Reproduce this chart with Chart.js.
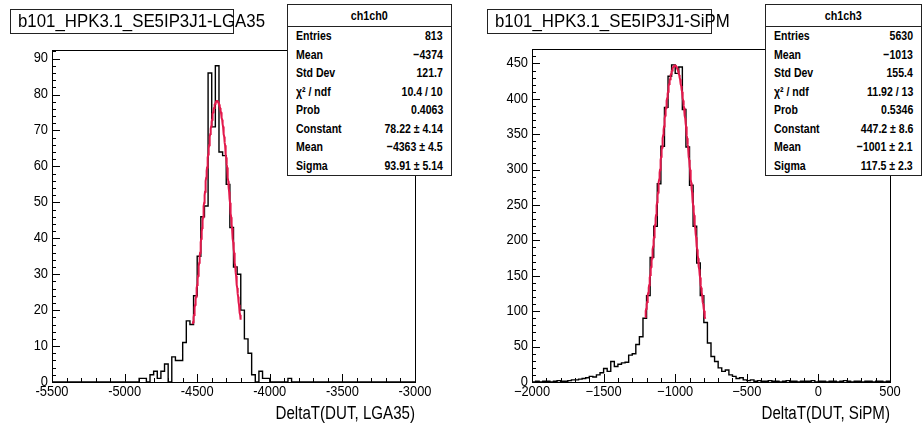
<!DOCTYPE html>
<html>
<head>
<meta charset="utf-8">
<title>DeltaT distributions</title>
<script src="https://cdn.jsdelivr.net/npm/chart.js@4.4.1/dist/chart.umd.min.js"></script>
<style>
  html, body { margin: 0; padding: 0; background: #fff; }
  #page { position: relative; width: 923px; height: 431px; overflow: hidden; background: #fff;
          font-family: 'Liberation Sans', Arial, sans-serif; color: #000; }
  canvas { position: absolute; top: 0; }
  .htitle { position: absolute; top: 9px; height: 25px; border: 1px solid #222; background: #fff;
            box-sizing: border-box; font-size: 18px; line-height: 23px; padding-left: 7px; white-space: nowrap; }
  .htitle span { display: inline-block; transform: scaleX(0.935); transform-origin: 0 50%; }
  .stats { position: absolute; top: 4px; border: 1px solid #222; background: #fff; box-sizing: border-box;
           font-size: 13.5px; font-weight: bold; }
  .stats .hd { height: 21px; line-height: 21px; text-align: center; border-bottom: 1px solid #222; }
  .stats .hd span { display: inline-block; transform: scaleX(0.8); transform-origin: 50% 50%; }
  .stats .row { position: relative; height: 18.5px; line-height: 18.5px; }
  .stats .row .k { position: absolute; left: 8px; transform: scaleX(0.78); transform-origin: 0 50%; white-space: nowrap; }
  .stats .row .v { position: absolute; right: 8px; transform: scaleX(0.78); transform-origin: 100% 50%; white-space: nowrap; }
</style>
</head>
<body>
<div id="page">
  <canvas id="cv0" width="461" height="431" style="left:0"></canvas>
  <canvas id="cv3" width="462" height="431" style="left:461px"></canvas>
  <div class="htitle" id="t0" style="left:10px;width:224px"></div>
  <div class="htitle" id="t3" style="left:487px;width:225px"></div>
  <div class="stats" id="s0" style="left:287px;width:165px"></div>
  <div class="stats" id="s3" style="left:765px;width:157px"></div>
</div>
<script>
// ---- histogram contents: 100 bins of 25 per channel ----
const binWidth = 25;

// ch1ch0 : DeltaT(DUT, LGA35)
const ch0Name = 'ch1ch0';
const ch0Title = 'b101_HPK3.1_SE5IP3J1-LGA35';
const ch0AxisTitle = 'DeltaT(DUT, LGA35)';
const ch0Range = [-5500, -3000];
const ch0Counts = [
  0, 0, 0, 0, 0, 0, 0, 0, 0, 0,
  0, 0, 0, 0, 0, 0, 0, 0, 0, 0,
  0, 0, 0, 0, 1, 1, 0, 2, 3, 1,
  3, 5, 0, 7, 6, 6, 11, 17, 16, 24,
  35, 46, 49, 86, 71, 88, 64, 63, 55, 43,
  32, 30, 20, 12, 8, 2, 0, 3, 1, 1,
  0, 0, 0, 0, 0, 1, 0, 0, 0, 0,
  0, 0, 0, 0, 0, 0, 0, 0, 0, 0,
  0, 0, 0, 0, 0, 0, 0, 0, 0, 0,
  0, 0, 0, 0, 0, 0, 0, 0, 0, 0
];
const ch0Summary = ['813', '-4374', '121.7', '10.4 / 10', '0.4063'];
const ch0FitPar = [78.22, -4363, 93.91];          // constant, mean, sigma
const ch0FitErr = ['4.14', '4.5', '5.14'];
const ch0FitRange = [-4530, -4200];
const ch0XTicks = [-5500, -5000, -4500, -4000, -3500, -3000];
const ch0YTicks = [0, 10, 20, 30, 40, 50, 60, 70, 80, 90];

// ch1ch3 : DeltaT(DUT, SiPM)
const ch3Name = 'ch1ch3';
const ch3Title = 'b101_HPK3.1_SE5IP3J1-SiPM';
const ch3AxisTitle = 'DeltaT(DUT, SiPM)';
const ch3Range = [-2000, 500];
const ch3Counts = [
  0, 1, 0, 1, 1, 0, 1, 2, 1, 1,
  2, 3, 3, 4, 5, 6, 8, 7, 10, 13,
  19, 15, 29, 22, 25, 27, 28, 38, 40, 53,
  64, 90, 122, 176, 220, 280, 333, 388, 432, 448,
  436, 445, 385, 332, 278, 220, 168, 122, 84, 55,
  36, 29, 20, 15, 17, 10, 8, 5, 6, 3,
  2, 3, 1, 2, 1, 1, 2, 1, 1, 0,
  1, 2, 1, 1, 0, 1, 1, 1, 2, 0,
  1, 1, 0, 1, 1, 0, 1, 2, 1, 0,
  1, 1, 0, 1, 1, 0, 1, 1, 0, 1
];
const ch3Summary = ['5630', '-1013', '155.4', '11.92 / 13', '0.5346'];
const ch3FitPar = [447.2, -1001, 117.5];
const ch3FitErr = ['8.6', '2.1', '2.3'];
const ch3FitRange = [-1210, -790];
const ch3XTicks = [-2000, -1500, -1000, -500, 0, 500];
const ch3YTicks = [0, 50, 100, 150, 200, 250, 300, 350, 400, 450];

const FONT = "'Liberation Sans', Arial, sans-serif";
const minus = s => String(s).replace(/-/g, '\u2212');

// step outline: one point per bin low edge, plus the closing upper edge
function histPoints(range, counts) {
  const pts = counts.map((c, i) => ({ x: range[0] + i * binWidth, y: c }));
  pts.push({ x: range[0] + counts.length * binWidth, y: counts[counts.length - 1] });
  return pts;
}

// fitted gaussian evaluated over its fit range
function gausPoints(par, range) {
  const [c, m, s] = par;
  const pts = [];
  for (let x = range[0]; x <= range[1]; x += 2) {
    pts.push({ x, y: c * Math.exp(-0.5 * ((x - m) / s) ** 2) });
  }
  return pts;
}

// narrow glyphs for axis text: squeeze each string horizontally around its anchor
const narrowText = {
  id: 'narrowText',
  beforeInit(chart) {
    const ctx = chart.ctx;
    const fill = ctx.fillText;
    ctx.fillText = function (t, x, y, w) {
      const k = /(\d+(\.\d+)?)px/.exec(this.font);
      const size = k ? parseFloat(k[1]) : 14;
      const sx = size >= 17 ? 0.84 : 0.92;
      this.save();
      this.translate(x, y);
      this.scale(sx, 1);
      fill.call(this, t, 0, 0);
      this.restore();
    };
  }
};

// frame around the pad plus inward tick marks
const rootFrame = {
  id: 'rootFrame',
  afterDatasetsDraw(chart, args, o) {
    const { ctx, chartArea: a } = chart;
    const x = chart.scales.x, y = chart.scales.y;
    ctx.save();
    ctx.strokeStyle = '#000';
    ctx.lineWidth = 1;
    ctx.beginPath();
    const nx = Math.round((x.max - x.min) / o.xMinor);
    for (let i = 0; i <= nx; i++) {
      const v = x.min + i * o.xMinor;
      const px = Math.round(x.getPixelForValue(v)) + 0.5;
      const len = (i % o.xSub === 0) ? o.majorLen : o.minorLen;
      ctx.moveTo(px, a.bottom);
      ctx.lineTo(px, a.bottom - len);
    }
    const ny = Math.floor(y.max / o.yMinor + 1e-9);
    for (let i = 0; i <= ny; i++) {
      const v = i * o.yMinor;
      const py = Math.round(y.getPixelForValue(v)) + 0.5;
      const len = (i % o.ySub === 0) ? o.majorLen : o.minorLen;
      ctx.moveTo(a.left, py);
      ctx.lineTo(a.left + len, py);
    }
    ctx.stroke();
    ctx.strokeRect(Math.round(a.left) + 0.5, Math.round(a.top) + 0.5,
                   Math.round(a.right - a.left), Math.round(a.bottom - a.top));
    ctx.restore();
  }
};

function makePanel(cfg) {
  const yMax = 1.05 * Math.max(...cfg.counts);
  return new Chart(document.getElementById(cfg.canvas), {
    type: 'line',
    data: {
      datasets: [
        { data: gausPoints(cfg.fitPar, cfg.fitRange), borderColor: '#e3194c', borderWidth: 2,
          pointRadius: 0, tension: 0, fill: false },
        { data: histPoints(cfg.range, cfg.counts), borderColor: '#000', borderWidth: 1.4,
          pointRadius: 0, stepped: true, fill: false }
      ]
    },
    options: {
      responsive: false,
      animation: false,
      events: [],
      layout: { padding: { top: cfg.top, right: cfg.right, left: 0, bottom: 0 } },
      plugins: {
        legend: { display: false },
        tooltip: { enabled: false },
        rootFrame: { xMinor: 100, xSub: 5, yMinor: cfg.yMinor, ySub: 5, majorLen: 8, minorLen: 4 }
      },
      scales: {
        x: {
          type: 'linear', min: cfg.range[0], max: cfg.range[1],
          afterFit: s => { s.height = 49; },
          afterBuildTicks: s => { s.ticks = cfg.xTicks.map(v => ({ value: v })); },
          grid: { display: false, drawTicks: false },
          border: { display: false },
          ticks: { autoSkip: false, maxRotation: 0, color: '#000', padding: 2,
                   font: { family: FONT, size: 14 }, callback: cfg.xLabel },
          title: { display: true, text: cfg.axisTitle, align: 'end', color: '#000',
                   font: { family: FONT, size: 18 }, padding: { top: 0, bottom: 6 } }
        },
        y: {
          type: 'linear', min: 0, max: yMax,
          afterFit: s => { s.width = cfg.yWidth; },
          afterBuildTicks: s => { s.ticks = cfg.yTicks.map(v => ({ value: v })); },
          grid: { display: false, drawTicks: false },
          border: { display: false },
          ticks: { autoSkip: false, color: '#000', padding: 4,
                   font: { family: FONT, size: 14 }, callback: v => String(v) }
        }
      }
    },
    plugins: [narrowText, rootFrame]
  });
}

function fillStats(id, name, summary, par, err) {
  const rows = [
    ['Entries', summary[0]],
    ['Mean', minus(summary[1])],
    ['Std Dev', summary[2]],
    ['\u03c7\u00b2 / ndf', summary[3]],
    ['Prob', summary[4]],
    ['Constant', minus(par[0]) + ' \u00b1 ' + err[0]],
    ['Mean', minus(par[1]) + ' \u00b1 ' + err[1]],
    ['Sigma', minus(par[2]) + ' \u00b1 ' + err[2]]
  ];
  const box = document.getElementById(id);
  const hd = document.createElement('div');
  hd.className = 'hd';
  const hs = document.createElement('span');
  hs.textContent = name;
  hd.appendChild(hs);
  box.appendChild(hd);
  rows.forEach(([k, v]) => {
    const r = document.createElement('div');
    r.className = 'row';
    const a = document.createElement('span'); a.className = 'k'; a.textContent = k;
    const b = document.createElement('span'); b.className = 'v'; b.textContent = v;
    r.appendChild(a); r.appendChild(b);
    box.appendChild(r);
  });
}

makePanel({ canvas: 'cv0', counts: ch0Counts, range: ch0Range, fitPar: ch0FitPar, fitRange: ch0FitRange,
            xTicks: ch0XTicks, yTicks: ch0YTicks, axisTitle: ch0AxisTitle, yMinor: 2,
            top: 50, right: 46, yWidth: 52, xLabel: v => String(v) });
makePanel({ canvas: 'cv3', counts: ch3Counts, range: ch3Range, fitPar: ch3FitPar, fitRange: ch3FitRange,
            xTicks: ch3XTicks, yTicks: ch3YTicks, axisTitle: ch3AxisTitle, yMinor: 10,
            top: 49, right: 33, yWidth: 71, xLabel: v => minus(v) });

function setTitle(id, text) {
  const s = document.createElement('span');
  s.textContent = text;
  document.getElementById(id).appendChild(s);
}
setTitle('t0', ch0Title);
setTitle('t3', ch3Title);
fillStats('s0', ch0Name, ch0Summary, ch0FitPar, ch0FitErr);
fillStats('s3', ch3Name, ch3Summary, ch3FitPar, ch3FitErr);
</script>
</body>
</html>
